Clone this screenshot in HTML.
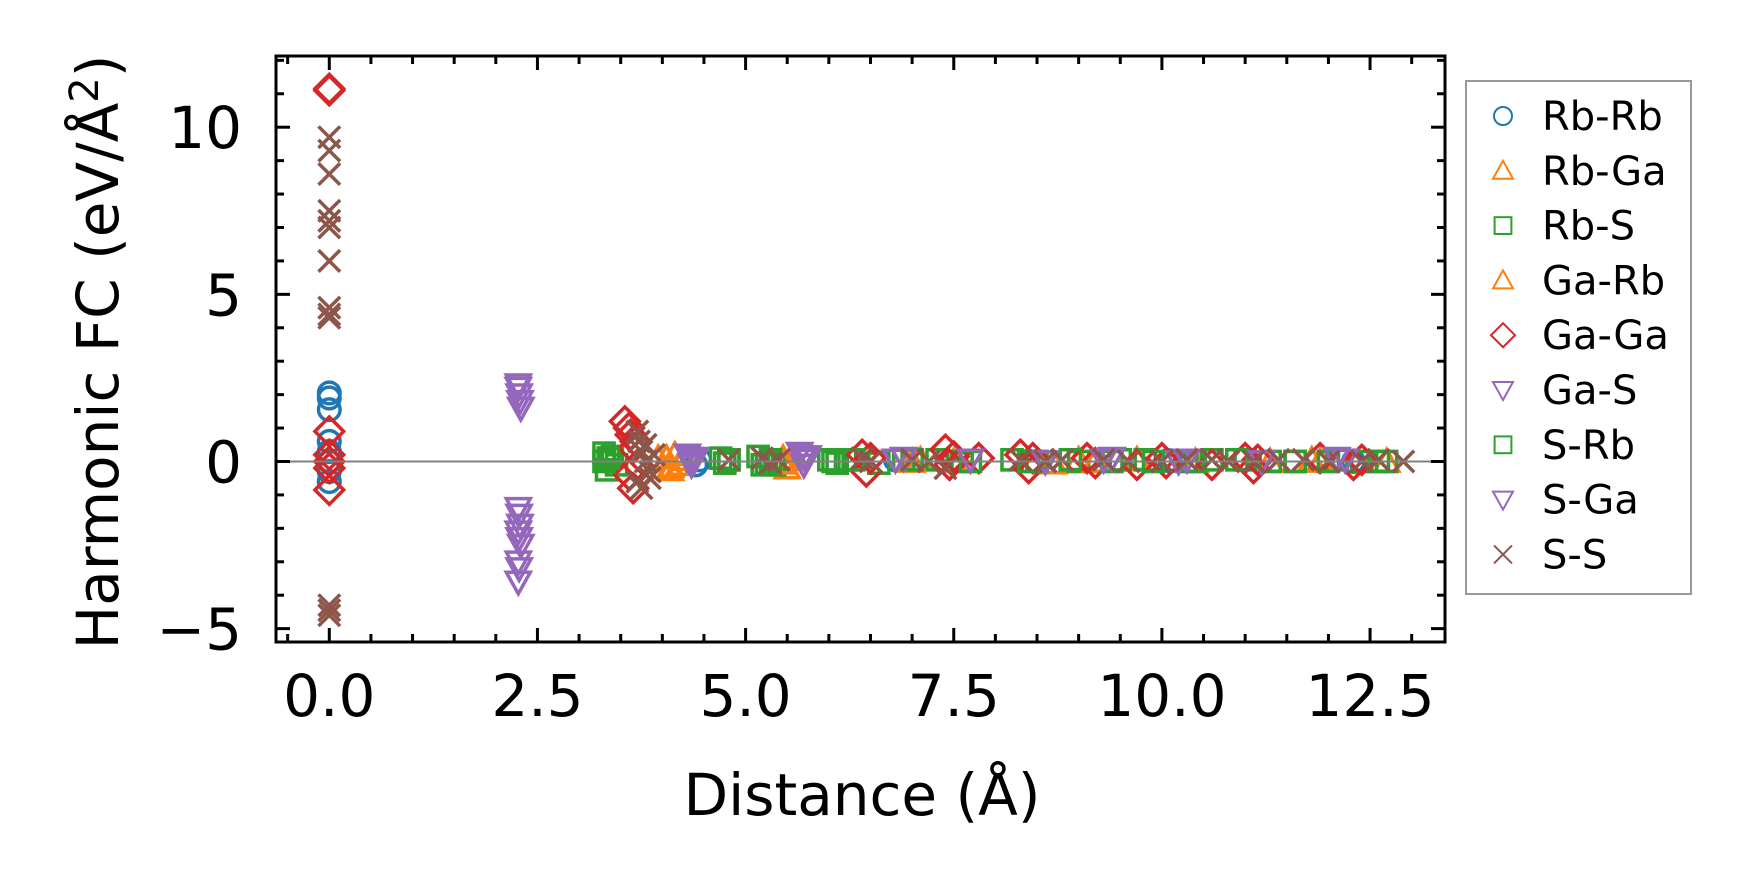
<!DOCTYPE html>
<html><head><meta charset="utf-8"><style>
html,body{margin:0;padding:0;background:#fff;}
svg{display:block;font-family:"DejaVu Sans","Liberation Sans",sans-serif;}
</style></head><body>
<svg id="chart" width="1741" height="883" viewBox="0 0 1741 883" xmlns="http://www.w3.org/2000/svg">
<rect width="1741" height="883" fill="#fff"/>
<g id="marks"></g>
<g id="axes"></g>
<text x="862" y="815" font-size="58" text-anchor="middle">Distance (Å)</text>
<text transform="translate(118,352) rotate(-90)" font-size="58" text-anchor="middle">Harmonic FC (eV/Å<tspan dy="-20" font-size="40">2</tspan><tspan dy="20">)</tspan></text>
<g id="legend"></g>
</svg>
<script>
const seriesNames=["Rb-Rb","Rb-Ga","Rb-S","Ga-Rb","Ga-Ga","Ga-S","S-Rb","S-Ga","S-S"];
const seriesColors=["#1f77b4","#ff7f0e","#2ca02c","#ff7f0e","#d62728","#9467bd","#2ca02c","#9467bd","#8c564b"];
const seriesMarkers=["circle","tri-up","square","tri-up","diamond","tri-down","square","tri-down","x"];
const rbrbX=[0,0,0,0,0,0,0,0,4.4,4.45,6.8,8.5,10.1,12.3];
const rbrbY=[2.05,1.9,1.55,0.6,0.3,0,-0.3,-0.6,-0.1,0.05,0.05,0,0.02,0];
const rbgaX=[4.0,4.05,4.1,4.15,4.2,4.25,5.45,5.5,5.55,5.6,7.1,7.5,8.7,9.0,9.7,10.4,11.3,11.8,12.7];
const rbgaY=[-0.2,0.1,-0.25,0.2,-0.1,0.05,0.1,-0.2,0.05,0.1,0.05,0,-0.05,0.05,0.05,0,0,0.05,0];
const rbsX=[3.3,3.33,3.36,3.4,3.45,4.7,4.75,4.8,5.15,5.2,5.3,5.35,6.0,6.1,6.2,6.6,6.9,7.3,7.6,8.2,8.5,9.0,9.5,9.8,10.3,10.6,11.0,11.3,11.6,12.1,12.4,12.7];
const rbsY=[0.25,-0.25,0.1,0.15,-0.1,0.1,-0.05,0.05,0.15,-0.1,0.05,-0.1,0.05,-0.05,0.05,-0.05,0.05,0.05,0,0.05,0,0,0.05,0.05,0,0.05,0.05,0,0,0.05,0,0];
const garbX=[3.95,4.1,5.45,7.0,9.2,11.9];
const garbY=[0.1,-0.15,-0.05,0,0,0];
const gagaX=[0,0,0,0,0,0,0,3.55,3.6,3.62,3.65,3.7,3.6,3.65,3.68,6.4,6.45,6.5,7.4,7.45,7.5,7.8,8.3,8.4,8.45,9.1,9.2,9.7,10.0,10.05,10.6,11.0,11.1,11.15,11.9,12.3,12.4];
const gagaY=[11.15,11.1,0.9,0.2,0,-0.2,-0.85,1.2,1.0,0.8,0.4,-0.1,-0.4,-0.8,0.6,0.2,-0.3,0.1,0.35,-0.1,0.15,0.1,0.2,-0.2,0.1,0.1,-0.05,-0.1,0.1,-0.05,-0.1,0.1,-0.2,0.05,0.1,-0.1,0.05];
const gasX=[2.27,2.27,2.28,2.29,2.3,2.27,2.28,2.29,2.27,2.28,2.3,2.27,2.28,2.27,4.3,4.33,4.35,4.4,5.65,5.7,5.75,5.72];
const gasY=[2.3,2.2,2.0,1.8,1.6,-1.4,-1.6,-1.9,-2.1,-2.3,-2.5,-3.0,-3.2,-3.6,0.2,0.1,-0.1,0.1,0.25,-0.1,0.15,0.05];
const srbX=[3.3,3.35,4.8,5.25,5.3,6.05,6.3,7.0,7.7,8.4,8.9,9.4,9.9,10.4,10.9,11.6,12.0,12.6];
const srbY=[0,0.1,0.05,-0.05,0.05,0,0.05,0.05,0,0,0.05,0,0,0,0.05,0,0,0];
const sgaX=[4.35,5.7,6.8,6.9,7.7,8.6,9.3,9.4,10.2,10.3,11.2,12.1,12.2];
const sgaY=[0,0.15,0.05,0.1,0.05,0,0.05,0.1,0,0.05,0,0.1,0.05];
const ssX=[0,0,0,0,0,0,0,0,0,0,0,0,0,3.7,3.72,3.75,3.8,3.85,3.7,3.75,3.8,3.85,3.9,4.8,5.2,5.3,5.4,6.4,6.5,7.0,7.2,7.4,8.3,8.6,8.8,9.3,9.6,10.0,10.3,10.6,10.8,11.1,11.4,11.7,12.0,12.4,12.6,12.9];
const ssY=[9.7,9.3,8.6,7.5,7.2,7.0,6.0,4.6,4.4,4.3,-4.3,-4.45,-4.6,0.9,0.6,0.3,0.0,-0.3,-0.6,-0.8,0.5,-0.5,0.2,0.05,0.1,-0.05,0.05,0.1,0,0.05,0,-0.2,0.05,0,0.05,0.05,0,0,0.05,0.05,0,0,0.05,0.05,0,0,0.05,0];
const seriesX=[rbrbX,rbgaX,rbsX,garbX,gagaX,gasX,srbX,sgaX,ssX];
const seriesY=[rbrbY,rbgaY,rbsY,garbY,gagaY,gasY,srbY,sgaY,ssY];
const yTicks=[-5,0,5,10];
const yTickLabels=["−5","0","5","10"];
const xTicks=[0,2.5,5,7.5,10,12.5];
const xTickLabels=["0.0","2.5","5.0","7.5","10.0","12.5"];

const L=276,R=1445,T=56,B=642;
const xMin=-0.64,xMax=13.4,yMin=-5.4,yMax=12.13;
const sx=v=>L+(v-xMin)/(xMax-xMin)*(R-L);
const sy=v=>B-(v-yMin)/(yMax-yMin)*(B-T);
const NS="http://www.w3.org/2000/svg";
function mk(tag,attrs,parent){const e=document.createElementNS(NS,tag);for(const k in attrs)e.setAttribute(k,attrs[k]);parent.appendChild(e);return e;}
function marker(parent,type,cx,cy,s,color,sw){
  let e;
  if(type==="circle")e=mk("circle",{cx:cx,cy:cy,r:s*0.45,fill:"none",stroke:color,"stroke-width":sw},parent);
  else if(type==="square")e=mk("rect",{x:cx-s*0.42,y:cy-s*0.42,width:s*0.84,height:s*0.84,fill:"none",stroke:color,"stroke-width":sw},parent);
  else if(type==="diamond")e=mk("polygon",{points:`${cx},${cy-s*0.6} ${cx+s*0.6},${cy} ${cx},${cy+s*0.6} ${cx-s*0.6},${cy}`,fill:"none",stroke:color,"stroke-width":sw},parent);
  else if(type==="tri-up")e=mk("polygon",{points:`${cx},${cy-s*0.5} ${cx+s*0.5},${cy+s*0.4} ${cx-s*0.5},${cy+s*0.4}`,fill:"none",stroke:color,"stroke-width":sw},parent);
  else if(type==="tri-down")e=mk("polygon",{points:`${cx},${cy+s*0.5} ${cx+s*0.5},${cy-s*0.4} ${cx-s*0.5},${cy-s*0.4}`,fill:"none",stroke:color,"stroke-width":sw},parent);
  else {e=mk("path",{d:`M${cx-s*0.45},${cy-s*0.45}L${cx+s*0.45},${cy+s*0.45}M${cx-s*0.45},${cy+s*0.45}L${cx+s*0.45},${cy-s*0.45}`,stroke:color,"stroke-width":sw,fill:"none"},parent);}
  return e;
}
const marks=document.getElementById("marks");
seriesNames.forEach((n,i)=>{
  const g=mk("g",{},marks);
  
  
  seriesX[i].forEach((xv,j)=>{
    const m=marker(g,seriesMarkers[i],sx(xv),sy(seriesY[i][j]),24,seriesColors[i],3.5);
    
    
  });
});
const zl=mk("line",{x1:L,x2:R,y1:sy(0),y2:sy(0),stroke:"#808080","stroke-width":2},marks);



const axes=document.getElementById("axes");
for(let v=-5;v<=12;v++){
  const major=v%5===0, len=major?14:8, y=sy(v);
  mk("line",{x1:L,x2:L+len,y1:y,y2:y,stroke:"#000","stroke-width":3},axes);
  mk("line",{x1:R,x2:R-len,y1:y,y2:y,stroke:"#000","stroke-width":3},axes);
}
for(let k=-1;k<=26;k++){
  const v=k*0.5; if(v<xMin||v>xMax)continue;
  const major=k%5===0, len=major?14:8, x=sx(v);
  mk("line",{x1:x,x2:x,y1:B,y2:B-len,stroke:"#000","stroke-width":3},axes);
  mk("line",{x1:x,x2:x,y1:T,y2:T+len,stroke:"#000","stroke-width":3},axes);
}
yTicks.forEach((v,i)=>{
  const t=mk("text",{x:L-34,y:sy(v)+21,"font-size":58,"text-anchor":"end"},axes);
  t.textContent=yTickLabels[i];
  
  
});
xTicks.forEach((v,i)=>{
  const t=mk("text",{x:sx(v),y:B+74,"font-size":58,"text-anchor":"middle"},axes);
  t.textContent=xTickLabels[i];
  
  
});
const frame=mk("rect",{x:L,y:T,width:R-L,height:B-T,fill:"none",stroke:"#000","stroke-width":3},axes);



const leg=document.getElementById("legend");
mk("rect",{x:1466,y:81,width:225,height:513,fill:"#fff",stroke:"#999","stroke-width":2},leg);
seriesNames.forEach((n,i)=>{
  const y=116+i*54.8;
  const g=mk("g",{},leg);
  
  
  marker(g,seriesMarkers[i],1503,y,20,seriesColors[i],2);
  const t=mk("text",{x:1542,y:y+14,"font-size":40},g);
  t.textContent=n;
});
</script>
</body></html>
